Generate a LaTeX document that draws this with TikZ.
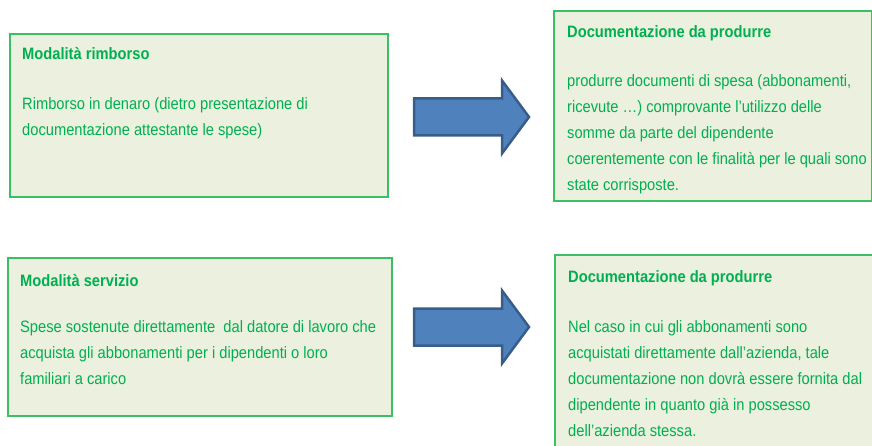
\documentclass[tikz,border=0pt]{standalone}
\usepackage{fontspec}
\setmainfont{Liberation Sans}[FakeStretch=0.89]
\definecolor{boxfill}{HTML}{EBF1DE}
\definecolor{boxline}{HTML}{3CBE64}
\definecolor{boxtextcol}{HTML}{00B050}
\definecolor{arrowfill}{HTML}{4F81BD}
\definecolor{arrowline}{HTML}{385D8A}

\begin{document}
\begin{tikzpicture}[x = 1pt, y = -1pt,
    modebox/.style = {draw = boxline, fill = boxfill, line width = 1.6pt, anchor = north west, inner sep = 0},
    boxtitle/.style = {anchor = base west, inner sep = 0, text = boxtextcol, font = \bfseries\fontsize{16.5}{26}\selectfont},
    boxtext/.style = {anchor = base west, inner sep = 0, text = boxtextcol, align = left, font = \fontsize{16.5}{26}\selectfont},
    bigarrow/.style = {draw = arrowline, fill = arrowfill, line width = 2.5pt, line join = miter}]
    \useasboundingbox (0, 0) rectangle (872, 446);

    %% boxes
    \node[modebox, minimum width = 378pt, minimum height = 163pt] (rimborso) at (9, 33) {};
    \node[modebox, minimum width = 318pt, minimum height = 190pt] (docrimb) at (553, 10) {};
    \node[modebox, minimum width = 384pt, minimum height = 158pt] (servizio) at (7, 257) {};
    \node[modebox, minimum width = 320pt, minimum height = 210pt] (docserv) at (554, 254) {};

    %% texts (base = last line)
    \node[boxtitle] (rimbtitle) at (22, 60) {Modalità rimborso};
    \node[boxtext] (rimbtext) at (22, 136) {Rimborso in denaro (dietro presentazione di\\
        documentazione attestante le spese)};

    \node[boxtitle] (docrimbtitle) at (567, 38) {Documentazione da produrre};
    \node[boxtext] (docrimbtext) at (567, 191) {produrre documenti di spesa (abbonamenti,\\
        ricevute \dots) comprovante l’utilizzo delle\\
        somme da parte del dipendente\\
        coerentemente con le finalità per le quali sono\\
        state corrisposte.};

    \node[boxtitle] (servtitle) at (20, 286) {Modalità servizio};
    \node[boxtext] (servtext) at (20, 384) {Spese sostenute direttamente\ \ dal datore di lavoro che\\
        acquista gli abbonamenti per i dipendenti o loro\\
        familiari a carico};

    \node[boxtitle] (docservtitle) at (568, 282) {Documentazione da produrre};
    \node[boxtext] (docservtext) at (568, 436) {Nel caso in cui gli abbonamenti sono\\
        acquistati direttamente dall’azienda, tale\\
        documentazione non dovrà essere fornita dal\\
        dipendente in quanto già in possesso\\
        dell’azienda stessa.};

    %% arrows
    \foreach \y in {117, 327}
        \draw[bigarrow] (414, \y - 18.5) -- (502, \y - 18.5) -- (502, \y - 36.5) -- (529, \y)
            -- (502, \y + 36.5) -- (502, \y + 18.5) -- (414, \y + 18.5) -- cycle;
\end{tikzpicture}
\end{document}
